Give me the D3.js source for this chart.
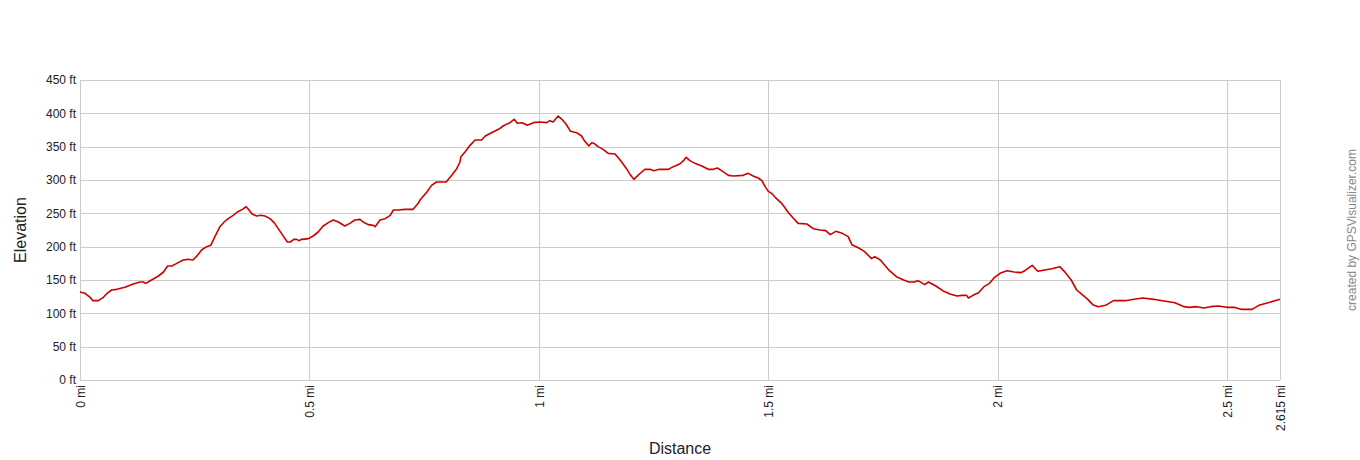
<!DOCTYPE html>
<html>
<head>
<meta charset="utf-8">
<script src="https://cdn.jsdelivr.net/npm/d3@7"></script>
<style>
  body { margin: 0; background: #fff; }
  svg text { font-family: "Liberation Sans", Arial, sans-serif; }
</style>
</head>
<body>
<div id="chart"></div>
<script>
// distance along the track (mi) and elevation (ft)
var distMi = [
  0.000, 0.011, 0.022, 0.028, 0.040, 0.051, 0.059, 0.069, 0.080, 0.098,
  0.116, 0.131, 0.138, 0.143, 0.156, 0.171, 0.182, 0.191, 0.200, 0.211,
  0.225, 0.236, 0.246, 0.256, 0.265, 0.276, 0.285, 0.294, 0.305, 0.314,
  0.323, 0.334, 0.343, 0.354, 0.362, 0.367, 0.375, 0.385, 0.394, 0.403,
  0.414, 0.423, 0.432, 0.442, 0.452, 0.458, 0.466, 0.472, 0.477, 0.483,
  0.498, 0.508, 0.519, 0.530, 0.541, 0.552, 0.563, 0.577, 0.588, 0.599,
  0.610, 0.617, 0.628, 0.639, 0.643, 0.654, 0.665, 0.676, 0.683, 0.694,
  0.708, 0.726, 0.737, 0.741, 0.756, 0.766, 0.777, 0.798, 0.810, 0.821,
  0.828, 0.830, 0.839, 0.850, 0.861, 0.875, 0.883, 0.897, 0.912, 0.922,
  0.937, 0.946, 0.953, 0.963, 0.975, 0.988, 1.002, 1.017, 1.024, 1.031,
  1.042, 1.050, 1.059, 1.069, 1.082, 1.093, 1.100, 1.109, 1.115, 1.120,
  1.129, 1.140, 1.151, 1.166, 1.177, 1.191, 1.200, 1.207, 1.219, 1.231,
  1.242, 1.251, 1.262, 1.282, 1.293, 1.307, 1.315, 1.321, 1.329, 1.340,
  1.355, 1.369, 1.380, 1.389, 1.398, 1.413, 1.424, 1.445, 1.456, 1.467,
  1.478, 1.486, 1.493, 1.500, 1.507, 1.515, 1.529, 1.544, 1.554, 1.565,
  1.584, 1.598, 1.613, 1.625, 1.635, 1.647, 1.661, 1.674, 1.682, 1.697,
  1.709, 1.725, 1.732, 1.744, 1.764, 1.779, 1.795, 1.806, 1.818, 1.826,
  1.841, 1.849, 1.865, 1.880, 1.896, 1.911, 1.923, 1.932, 1.936, 1.946,
  1.958, 1.970, 1.982, 1.993, 2.005, 2.020, 2.036, 2.050, 2.059, 2.075,
  2.087, 2.102, 2.118, 2.135, 2.145, 2.160, 2.172, 2.184, 2.196, 2.207,
  2.219, 2.235, 2.252, 2.277, 2.297, 2.316, 2.340, 2.359, 2.386, 2.406,
  2.417, 2.433, 2.449, 2.464, 2.480, 2.499, 2.515, 2.530, 2.554, 2.569,
  2.589, 2.615
];
var elevFt = [
  132, 130, 124, 119, 119, 124, 130, 135, 136, 139,
  144, 147, 147, 145, 150, 156, 162, 171, 171, 175,
  180, 181, 180, 187, 195, 200, 202, 215, 230, 237,
  242, 247, 252, 256, 260, 256, 249, 246, 247, 246,
  242, 236, 227, 217, 207, 207, 211, 211, 209, 211,
  212, 216, 222, 231, 236, 240, 237, 231, 235, 240,
  241, 237, 233, 232, 230, 240, 242, 247, 255, 255,
  256, 256, 265, 270, 282, 292, 297, 297, 307, 317,
  327, 335, 342, 352, 360, 360, 366, 371, 376, 381,
  386, 391, 385, 386, 382, 386, 387, 386, 389, 387,
  396, 391, 384, 373, 371, 366, 358, 351, 356, 355,
  350, 346, 340, 339, 330, 317, 307, 301, 309, 316,
  316, 314, 316, 316, 320, 324, 329, 334, 329, 325,
  321, 316, 316, 318, 314, 307, 306, 307, 310, 306,
  303, 299, 290, 283, 280, 274, 265, 251, 243, 235,
  234, 227, 225, 224, 218, 223, 220, 215, 203, 198,
  193, 182, 185, 180, 164, 155, 150, 147, 147, 149,
  143, 147, 141, 134, 129, 126, 127, 127, 123, 127,
  131, 140, 145, 154, 160, 164, 162, 161, 164, 172,
  163, 165, 167, 170, 163, 150, 135, 128, 121, 113,
  110, 112, 119, 119, 121, 123, 121, 119, 116, 110,
  109, 110, 108, 110, 111, 109, 109, 106, 106, 112,
  116, 121
];
var xTicks = [0, 0.5, 1, 1.5, 2, 2.5, 2.615];
var yTicks = [0, 50, 100, 150, 200, 250, 300, 350, 400, 450];

var width = 1360, height = 460;
var margin = { top: 80, right: 80, bottom: 80, left: 80 };

var points = distMi.map(function(d, i) { return { mi: d, ft: elevFt[i] }; });

var svg = d3.select("#chart").append("svg")
    .attr("width", width)
    .attr("height", height);

var x = d3.scaleLinear().domain([0, 2.615]).range([margin.left, width - margin.right]);
var y = d3.scaleLinear().domain([0, 450]).range([height - margin.bottom, margin.top]);

// grid
svg.append("g").selectAll("line.h")
    .data(yTicks).enter().append("line")
    .attr("x1", x(0)).attr("x2", x(2.615))
    .attr("y1", function(d) { return Math.round(y(d)) + 0.5; })
    .attr("y2", function(d) { return Math.round(y(d)) + 0.5; })
    .attr("stroke", "#cccccc");

svg.append("g").selectAll("line.v")
    .data(xTicks).enter().append("line")
    .attr("y1", y(0)).attr("y2", y(450))
    .attr("x1", function(d) { return Math.round(x(d)) + 0.5; })
    .attr("x2", function(d) { return Math.round(x(d)) + 0.5; })
    .attr("stroke", "#cccccc");

// axes (labels only, grid is the frame)
var yAxis = d3.axisLeft(y).tickValues(yTicks).tickSize(0).tickPadding(4)
    .tickFormat(function(d) { return d + " ft"; });
var gy = svg.append("g").attr("transform", "translate(" + x(0) + ",0)").call(yAxis);
gy.select(".domain").remove();
gy.selectAll("text").attr("font-size", 12).attr("fill", "#222")
    .attr("font-family", "Liberation Sans, Arial, sans-serif");

var xAxis = d3.axisBottom(x).tickValues(xTicks).tickSize(0)
    .tickFormat(function(d) { return d + " mi"; });
var gx = svg.append("g").attr("transform", "translate(0," + y(0) + ")").call(xAxis);
gx.select(".domain").remove();
gx.selectAll("text")
    .attr("font-size", 12).attr("fill", "#222")
    .attr("font-family", "Liberation Sans, Arial, sans-serif")
    .attr("transform", "rotate(-90)")
    .attr("text-anchor", "end")
    .attr("x", -5).attr("y", 0).attr("dy", "0.35em");

// profile line
var line = d3.line()
    .x(function(d) { return x(d.mi); })
    .y(function(d) { return y(d.ft); });

svg.append("path")
    .datum(points)
    .attr("d", line)
    .attr("fill", "none")
    .attr("stroke", "#cc0000")
    .attr("stroke-width", 1.6)
    .attr("stroke-linejoin", "round");

// titles
svg.append("text")
    .attr("transform", "translate(26," + (height - margin.bottom + margin.top) / 2 + ") rotate(-90)")
    .attr("text-anchor", "middle")
    .attr("font-size", 16).attr("fill", "#222")
    .text("Elevation");

svg.append("text")
    .attr("x", (x(0) + x(2.615)) / 2).attr("y", 454)
    .attr("text-anchor", "middle")
    .attr("font-size", 16).attr("fill", "#222")
    .text("Distance");

svg.append("text")
    .attr("transform", "translate(1356,230) rotate(-90)")
    .attr("text-anchor", "middle")
    .attr("font-size", 12).attr("fill", "#888")
    .text("created by GPSVisualizer.com");
</script>
</body>
</html>
